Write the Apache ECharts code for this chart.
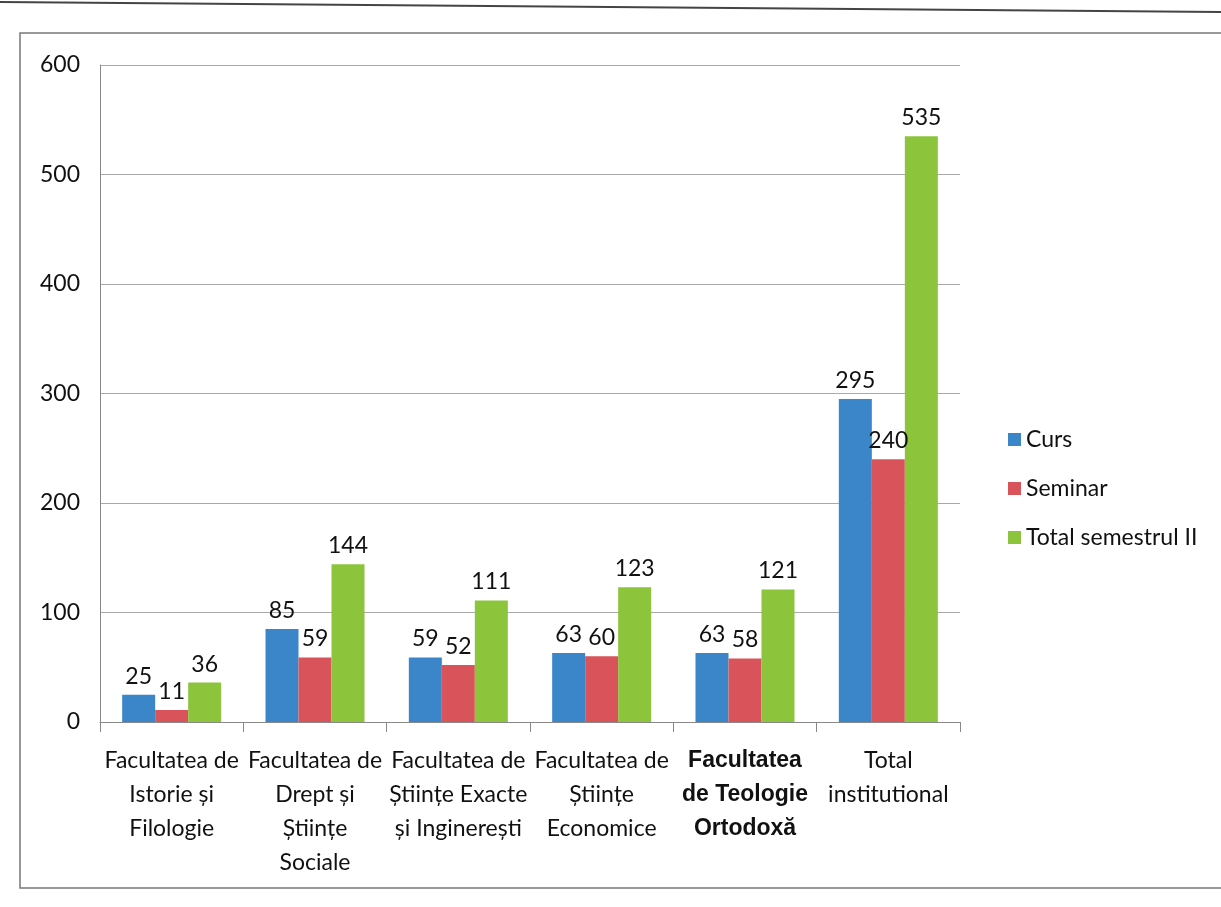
<!DOCTYPE html>
<html><head><meta charset="utf-8">
<script src="https://cdn.jsdelivr.net/npm/echarts@6/dist/echarts.min.js"></script>
<style>html,body{margin:0;padding:0;background:#fff}#c{width:1221px;height:907px}</style>
</head><body><div id="c"></div>
<script>
const categories = [
  "Facultatea de\nIstorie și\nFilologie",
  "Facultatea de\nDrept și\nȘtiințe\nSociale",
  "Facultatea de\nȘtiințe Exacte\nși Inginerești",
  "Facultatea de\nȘtiințe\nEconomice",
  "Facultatea\nde Teologie\nOrtodoxă",
  "Total\ninstitutional"
];
const curs = [25, 85, 59, 63, 63, 295];
const seminar = [11, 59, 52, 60, 58, 240];
const totalSem = [36, 144, 111, 123, 121, 535];
const seriesNames = ["Curs", "Seminar", "Total semestrul II"];
const yTicks = [0, 100, 200, 300, 400, 500, 600];

const FONT = "Lato";
const chart = echarts.init(document.getElementById('c'));
const lbl = {show: true, position: 'top', color: '#111', fontSize: 23, fontFamily: FONT, distance: 7};
function mk(name, data, color) {
  return {name, type: 'bar', data, barWidth: 33, barGap: '0%',
    itemStyle: {color}, label: lbl};
}
chart.setOption({
  animation: false,
  textStyle: {fontFamily: FONT},
  grid: {left: 100, right: 261, top: 65, bottom: 185, containLabel: false},
  legend: {
    orient: 'vertical', left: 1003, top: 423, itemGap: 26,
    itemWidth: 13, itemHeight: 13, icon: 'rect',
    textStyle: {fontSize: 23, color: '#111', fontFamily: FONT},
    data: seriesNames
  },
  xAxis: {
    type: 'category', data: categories,
    axisLine: {lineStyle: {color: '#888'}},
    axisTick: {show: true, length: 10, lineStyle: {color: '#888'}},
    axisLabel: {
      interval: 0, margin: 22, color: '#111', fontSize: 23, lineHeight: 34, fontFamily: FONT,
      formatter: function (v, i) { return i === 4 ? '{b|' + v.split('\n').join('}\n{b|') + '}' : v; },
      rich: {b: {fontFamily: 'Liberation Sans', fontSize: 23, lineHeight: 34, color: '#111', fontWeight: 'bold'}}
    }
  },
  yAxis: {
    type: 'value', min: 0, max: 600, interval: 100,
    axisLine: {show: true, lineStyle: {color: '#888'}},
    axisTick: {show: false},
    axisLabel: {color: '#111', fontSize: 23, margin: 20, fontFamily: FONT,
      formatter: v => yTicks.includes(v) ? String(v) : ''},
    splitLine: {lineStyle: {color: '#aaa', width: 1}}
  },
  graphic: [
    {type: 'rect', shape: {x: 20, y: 33, width: 1230, height: 855}, style: {fill: 'none', stroke: '#777', lineWidth: 1.5}, silent: true},
    {type: 'line', shape: {x1: 0, y1: 2, x2: 1221, y2: 12}, style: {stroke: '#444', lineWidth: 2}, silent: true}
  ],
  series: [
    mk(seriesNames[0], curs, '#3A86C8'),
    mk(seriesNames[1], seminar, '#D9545A'),
    mk(seriesNames[2], totalSem, '#8CC43C')
  ]
});
</script></body></html>
